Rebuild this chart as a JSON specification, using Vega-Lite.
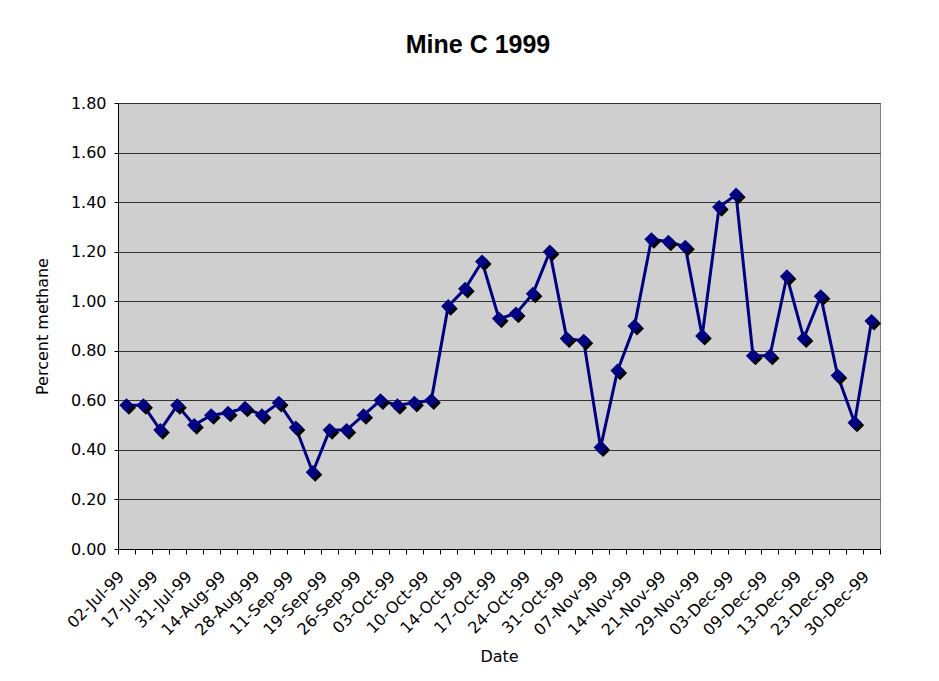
{
  "$schema": "https://vega.github.io/schema/vega-lite/v6.json",
  "width": 762,
  "height": 446,
  "autosize": {"type": "none"},
  "padding": {"left": 118, "top": 103, "right": 59, "bottom": 132},
  "background": "white",
  "title": {"text": "Mine C 1999", "font": "Liberation Sans", "fontSize": 25, "fontWeight": "bold", "color": "black", "anchor": "middle", "baseline": "bottom", "offset": 12, "dx": -21},
  "data": {"values": [
    {"date": "02-Jul-99", "methane": 0.58},
    {"date": "10-Jul-99", "methane": 0.58},
    {"date": "17-Jul-99", "methane": 0.48},
    {"date": "24-Jul-99", "methane": 0.58},
    {"date": "31-Jul-99", "methane": 0.50},
    {"date": "07-Aug-99", "methane": 0.54},
    {"date": "14-Aug-99", "methane": 0.55},
    {"date": "21-Aug-99", "methane": 0.57},
    {"date": "28-Aug-99", "methane": 0.54},
    {"date": "04-Sep-99", "methane": 0.59},
    {"date": "11-Sep-99", "methane": 0.49},
    {"date": "15-Sep-99", "methane": 0.31},
    {"date": "19-Sep-99", "methane": 0.48},
    {"date": "22-Sep-99", "methane": 0.48},
    {"date": "26-Sep-99", "methane": 0.54},
    {"date": "29-Sep-99", "methane": 0.60},
    {"date": "03-Oct-99", "methane": 0.58},
    {"date": "06-Oct-99", "methane": 0.59},
    {"date": "10-Oct-99", "methane": 0.60},
    {"date": "12-Oct-99", "methane": 0.98},
    {"date": "14-Oct-99", "methane": 1.05},
    {"date": "16-Oct-99", "methane": 1.16},
    {"date": "17-Oct-99", "methane": 0.93},
    {"date": "21-Oct-99", "methane": 0.95},
    {"date": "24-Oct-99", "methane": 1.03},
    {"date": "28-Oct-99", "methane": 1.20},
    {"date": "31-Oct-99", "methane": 0.85},
    {"date": "04-Nov-99", "methane": 0.84},
    {"date": "07-Nov-99", "methane": 0.41},
    {"date": "11-Nov-99", "methane": 0.72},
    {"date": "14-Nov-99", "methane": 0.90},
    {"date": "18-Nov-99", "methane": 1.25},
    {"date": "21-Nov-99", "methane": 1.24},
    {"date": "25-Nov-99", "methane": 1.22},
    {"date": "29-Nov-99", "methane": 0.86},
    {"date": "01-Dec-99", "methane": 1.38},
    {"date": "03-Dec-99", "methane": 1.43},
    {"date": "06-Dec-99", "methane": 0.78},
    {"date": "09-Dec-99", "methane": 0.78},
    {"date": "11-Dec-99", "methane": 1.10},
    {"date": "13-Dec-99", "methane": 0.85},
    {"date": "18-Dec-99", "methane": 1.02},
    {"date": "23-Dec-99", "methane": 0.70},
    {"date": "27-Dec-99", "methane": 0.51},
    {"date": "30-Dec-99", "methane": 0.92}
  ]},
  "encoding": {
    "x": {
      "field": "date", "type": "ordinal", "sort": null, "bandPosition": 0.5,
      "scale": {"type": "band", "paddingInner": 0, "paddingOuter": 0},
      "axis": {
        "title": "Date", "titleFont": "DejaVu Sans", "titleFontSize": 16, "titleFontWeight": "normal", "titleColor": "black", "titlePadding": 10,
        "labelFont": "DejaVu Sans", "labelFontSize": 16, "labelColor": "black", "labelAngle": -45, "labelOverlap": false, "labelPadding": 14, "labelOffset": -11,
        "labelExpr": "indexof(['02-Jul-99','17-Jul-99','31-Jul-99','14-Aug-99','28-Aug-99','11-Sep-99','19-Sep-99','26-Sep-99','03-Oct-99','10-Oct-99','14-Oct-99','17-Oct-99','24-Oct-99','31-Oct-99','07-Nov-99','14-Nov-99','21-Nov-99','29-Nov-99','03-Dec-99','09-Dec-99','13-Dec-99','23-Dec-99','30-Dec-99'], datum.value) >= 0 ? datum.label : ''",
        "tickBand": "extent", "tickSize": 5, "tickColor": "black", "domainColor": "black", "grid": false
      }
    },
    "y": {
      "field": "methane", "type": "quantitative",
      "scale": {"domain": [0, 1.8], "nice": false},
      "axis": {
        "title": "Percent methane", "titleFont": "DejaVu Sans", "titleFontSize": 16, "titleFontWeight": "normal", "titleColor": "black", "titlePadding": 20,
        "values": [0, 0.2, 0.4, 0.6, 0.8, 1.0, 1.2, 1.4, 1.6, 1.8], "format": ".2f",
        "labelFont": "DejaVu Sans", "labelFontSize": 16, "labelColor": "black", "labelPadding": 8,
        "tickSize": 4, "tickColor": "black", "domainColor": "black",
        "grid": true, "gridColor": "#333333", "gridWidth": 1
      }
    }
  },
  "layer": [
    {"mark": {"type": "line", "color": "#000080", "strokeWidth": 3}},
    {"mark": {"type": "point", "shape": "diamond", "filled": true, "color": "black", "size": 200, "opacity": 1, "xOffset": 2.5, "yOffset": 2.5}},
    {"mark": {"type": "point", "shape": "diamond", "filled": true, "color": "#000080", "size": 200, "opacity": 1}}
  ],
  "config": {"view": {"fill": "#cfcfcf", "stroke": "#808080", "strokeWidth": 1}}
}
